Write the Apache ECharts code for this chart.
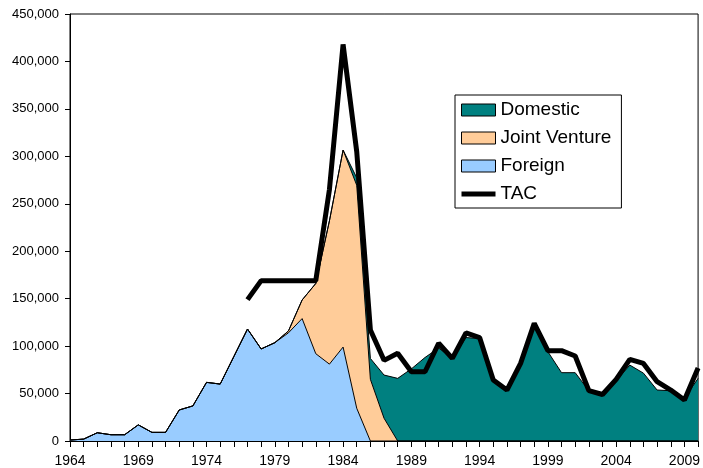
<!DOCTYPE html>
<html>
<head>
<meta charset="utf-8">
<script src="https://cdn.jsdelivr.net/npm/echarts@6/dist/echarts.min.js"></script>
<style>
html,body{margin:0;padding:0;background:#fff;}
#chart{width:703px;height:468px;}
</style>
</head>
<body>
<div id="chart"></div>
<script>
const years = ['1964','1965','1966','1967','1968','1969','1970','1971','1972','1973','1974','1975','1976','1977','1978','1979','1980','1981','1982','1983','1984','1985','1986','1987','1988','1989','1990','1991','1992','1993','1994','1995','1996','1997','1998','1999','2000','2001','2002','2003','2004','2005','2006','2007','2008','2009','2010'];

const foreign = [1000,2000,8700,6600,6600,17000,9100,9100,32700,37000,61800,60000,89000,118000,97000,103600,114000,129000,92000,81000,99000,34500,0,0,0,0,0,0,0,0,0,0,0,0,0,0,0,0,0,0,0,0,0,0,0,0,0];

const jointVenture = [0,0,0,0,0,0,0,0,0,0,0,0,0,0,0,0,2000,19600,74000,151000,207600,235000,65000,24000,0,0,0,0,0,0,0,0,0,0,0,0,0,0,0,0,0,0,0,0,0,0,0];

const domestic = [0,0,0,0,0,0,0,0,0,0,0,0,0,0,0,0,0,0,0,0,0,8000,22000,45500,66000,76000,88000,98000,87000,109000,108000,66000,53700,83500,122400,94100,72000,72000,53000,48500,63500,80000,71500,53700,53000,45000,66000];

const tac = [null,null,null,null,null,null,null,null,null,null,null,null,null,149000,169000,169000,169000,169000,169000,265000,418000,305000,117000,85000,92500,73000,73000,103000,87000,114000,109000,64300,53700,81800,124000,95200,95200,89600,53000,49000,65000,86000,81800,62500,53700,43200,77000];

const legendOrder = ['Domestic','Joint Venture','Foreign','TAC'];

const FONT = '"Liberation Sans", Arial, sans-serif';
const colors = {Foreign:'#99CCFF','Joint Venture':'#FFCC99',Domestic:'#008080',TAC:'#000000'};

const chart = echarts.init(document.getElementById('chart'), null, {renderer:'canvas'});

function areaSeries(name, data){
  return {
    name: name, type:'line', stack:'catch', data: data,
    symbol:'none', showSymbol:false,
    lineStyle:{color:'#000', width:1},
    itemStyle:{color:colors[name]},
    areaStyle:{color:colors[name], opacity:1},
    emphasis:{disabled:true}
  };
}

const option = {
  animation:false,
  backgroundColor:'#fff',
  grid:{left:70, top:14, right:-1, bottom:27, show:true, borderColor:'#000', borderWidth:1, backgroundColor:'transparent'},
  xAxis:{
    type:'category', data: years, boundaryGap:false,
    axisLine:{show:true, lineStyle:{color:'#000', width:1}},
    axisTick:{show:true, interval:0, length:6, lineStyle:{color:'#000'}},
    axisLabel:{interval:4, margin:13, fontSize:14, color:'#000', fontFamily:FONT},
    splitLine:{show:false}
  },
  yAxis:{
    type:'value', min:0, max:450000, interval:50000,
    axisLine:{show:true, lineStyle:{color:'#000', width:1}},
    axisTick:{show:true, length:5, lineStyle:{color:'#000'}},
    axisLabel:{margin:11, fontSize:13, color:'#000', fontFamily:FONT,
      formatter:function(v){return v.toLocaleString('en-US');}},
    splitLine:{show:false}
  },
  legend:{
    orient:'vertical', left:455, top:95,
    borderColor:'#000', borderWidth:1, padding:[5,10,4,6],
    itemWidth:34, itemHeight:12, itemGap:8,
    textStyle:{fontSize:19, lineHeight:20, color:'#000', fontFamily:FONT},
    selectedMode:false,
    data: legendOrder.map(function(n){
      if(n==='TAC') return {name:n, icon:'path://M0 0H34V5H0Z', itemStyle:{color:'#000', borderWidth:0}};
      return {name:n, icon:'rect', itemStyle:{color:colors[n], borderColor:'#000', borderWidth:1}};
    })
  },
  series:[
    areaSeries('Foreign', foreign),
    areaSeries('Joint Venture', jointVenture),
    areaSeries('Domestic', domestic),
    {
      name:'TAC', type:'line', data: tac, symbol:'none', showSymbol:false,
      connectNulls:false,
      lineStyle:{color:'#000', width:5},
      itemStyle:{color:'#000'},
      emphasis:{disabled:true},
      z:5
    }
  ]
};
chart.setOption(option);
</script>
</body>
</html>
